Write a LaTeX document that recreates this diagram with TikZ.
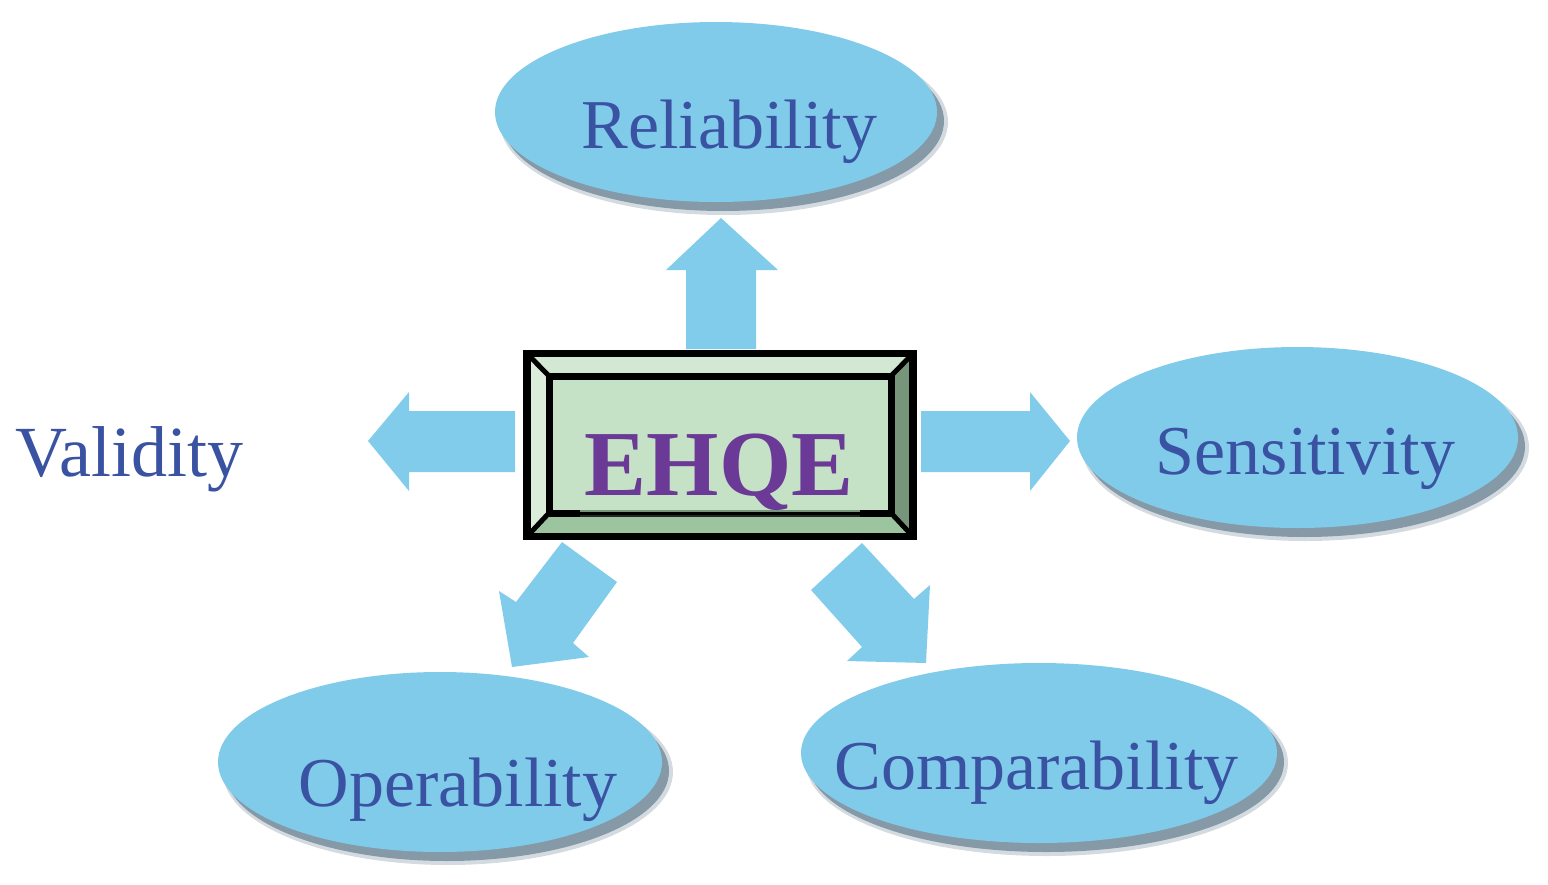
\documentclass[tikz,border=0pt]{standalone}
\usepackage{fontspec}
\setmainfont{Liberation Serif}
\usetikzlibrary{shapes.geometric}
\definecolor{ellfill}{HTML}{80CBEA}
\definecolor{arrfill}{HTML}{82CCEB}
\definecolor{shadowc}{HTML}{8599A7}
\definecolor{txtblue}{HTML}{3A52A2}
\definecolor{ehqec}{HTML}{6B3A96}
\definecolor{facec}{HTML}{C6E2C6}
\definecolor{bevtop}{HTML}{D3E8D3}
\definecolor{bevleft}{HTML}{DBECDB}
\definecolor{bevright}{HTML}{76957A}
\definecolor{bevbot}{HTML}{9CC49F}
\tikzset{
  ellbox/.style={ellipse, fill=ellfill, draw=none, inner sep=0pt},
  ellshadow/.style={ellipse, fill=shadowc, draw=none, inner sep=0pt},
  lbl/.style={anchor=base, inner sep=0pt, text=txtblue, font=\fontsize{70}{78}\selectfont},
  blockarrow/.style={fill=arrfill, draw=none},
}
\begin{document}
\begin{tikzpicture}[x=1pt,y=-1pt]
\useasboundingbox (0,0) rectangle (1548,884);

% ellipses with soft shadows
\foreach \cx/\cy/\w/\h/\nm in {716/112/442/180/rel, 1297.5/437.5/441/181/sen, 440/762/444/180/ope, 1039/753/476/180/com}{
  \node[ellshadow, opacity=0.35, minimum width=\w pt+6pt, minimum height=\h pt+6pt] (\nm-sh2) at (\cx+8,\cy+10) {};
  \node[ellshadow, minimum width=\w pt, minimum height=\h pt] (\nm-sh) at (\cx+7,\cy+9) {};
  \node[ellbox, minimum width=\w pt, minimum height=\h pt] (\nm) at (\cx,\cy) {};
}

% block arrows
\draw[blockarrow] (686,349) -- (686,270) -- (666,270) -- (721,218) -- (778,270) -- (756,270) -- (756,349) -- cycle;
\draw[blockarrow] (515,411) -- (409,411) -- (409,392) -- (368,441) -- (409,491) -- (409,472) -- (515,472) -- cycle;
\draw[blockarrow] (921,411) -- (1030,411) -- (1030,392) -- (1070,441) -- (1030,491) -- (1030,472) -- (921,472) -- cycle;
\draw[blockarrow] (562,542) -- (617,582) -- (573,643) -- (589,657) -- (512,667) -- (499,591) -- (516,602) -- cycle;
\draw[blockarrow] (862,543) -- (914,599) -- (930,585) -- (926,663) -- (847,661) -- (862,647) -- (811,590) -- cycle;

% central bevelled box
\fill[facec] (549,376) rectangle (891,513);
\fill[bevtop] (527,353.5) -- (913,353.5) -- (891,376) -- (549,376) -- cycle;
\fill[bevleft] (527,353.5) -- (549,376) -- (549,513) -- (527,536.5) -- cycle;
\fill[bevright] (913,353.5) -- (891,376) -- (891,513) -- (913,536.5) -- cycle;
\fill[bevbot] (527,536.5) -- (549,513) -- (891,513) -- (913,536.5) -- cycle;
\draw[line width=7pt, black] (549,376) rectangle (891,513);
\draw[line width=5pt, black] (527,353.5) -- (549,376) (913,353.5) -- (891,376)
  (527,536.5) -- (549,513) (913,536.5) -- (891,513);
\draw[line width=7.5pt, black] (527,353.5) rectangle (913,536.5);
\draw[line width=2pt, color=black!85] (580,516) -- (860,516);
\draw[line width=1.5pt, color=bevright] (580,511) -- (860,511);

% labels
\node[anchor=base, inner sep=0pt, text=ehqec, font=\bfseries\fontsize{93}{100}\selectfont] (ehqe) at (719,495) {EHQE};
\node[lbl] (reltxt) at (729.5,148) {Reliability};
\node[lbl] (sentxt) at (1305.5,474) {Sensitivity};
\node[lbl] (opetxt) at (458,806) {Operability};
\node[lbl] (comtxt) at (1036.5,789) {Comparability};
\node[lbl, font=\fontsize{72}{80}\selectfont] (valtxt) at (129,476) {Validity};
\end{tikzpicture}
\end{document}
